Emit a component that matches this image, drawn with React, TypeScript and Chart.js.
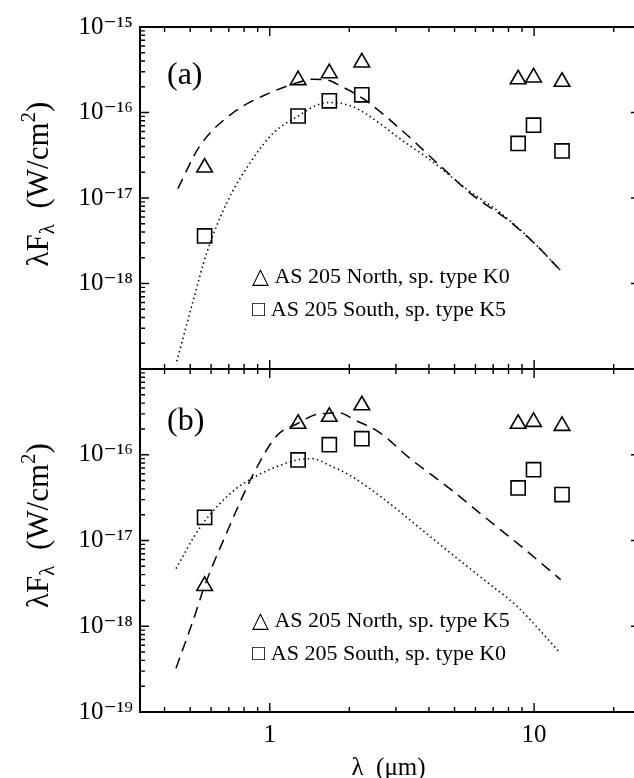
import React, { useEffect, useRef } from 'react';
import { Chart, registerables } from 'chart.js';

Chart.register(...registerables);

const FONT = "'Liberation Serif', 'DejaVu Serif', serif";

// Photometric wavelengths (μm)
const PHOT_WAVE = [0.567, 1.28, 1.68, 2.23, 8.7, 9.95, 12.75];

// Panel (a) photometry (W/cm²)
const A_NORTH = [2.27e-17, 2.39e-16, 2.88e-16, 3.85e-16, 2.45e-16, 2.57e-16, 2.29e-16];
const A_SOUTH = [3.6e-18, 9.1e-17, 1.37e-16, 1.61e-16, 4.34e-17, 7.1e-17, 3.55e-17];

// Panel (a) model curves
const A_DASH_WAVE = [0.449, 0.545, 0.729, 0.976, 1.28, 1.45, 1.65, 1.85, 2.27, 3.12, 4.42, 5.92, 7.92, 9.97, 12.75];
const A_DASH_FLUX = [1.29e-17, 4.1e-17, 1.0e-16, 1.64e-16, 2.25e-16, 2.45e-16, 2.4e-16, 2.05e-16, 1.43e-16, 6.4e-17, 2.37e-17, 1.05e-17, 5.6e-18, 3.0e-18, 1.36e-18];
const A_DOT_WAVE = [0.445, 0.514, 0.578, 0.688, 0.844, 1.034, 1.28, 1.51, 1.69, 2.02, 2.33, 3.12, 4.17, 5.58, 7.45, 9.98, 12.75];
const A_DOT_FLUX = [1.23e-19, 6.4e-19, 2.3e-18, 8.8e-18, 2.6e-17, 5.8e-17, 9.1e-17, 1.22e-16, 1.31e-16, 1.2e-16, 9.5e-17, 4.9e-17, 2.6e-17, 1.26e-17, 6.7e-18, 3.0e-18, 1.36e-18];

// Panel (b) photometry (W/cm²)
const B_NORTH = [2.95e-18, 2.3e-16, 2.77e-16, 3.78e-16, 2.3e-16, 2.42e-16, 2.17e-16];
const B_SOUTH = [1.86e-17, 8.7e-17, 1.31e-16, 1.54e-16, 4.1e-17, 6.7e-17, 3.43e-17];

// Panel (b) model curves
const B_DASH_WAVE = [0.442, 0.514, 0.567, 0.688, 0.868, 1.065, 1.27, 1.47, 1.67, 1.82, 2.11, 2.58, 3.4, 4.81, 6.64, 8.89, 12.6];
const B_DASH_FLUX = [3.24e-19, 1.19e-18, 2.95e-18, 1.24e-17, 6.0e-17, 1.68e-16, 2.3e-16, 2.9e-16, 3.05e-16, 3.1e-16, 2.52e-16, 1.85e-16, 9.0e-17, 4.0e-17, 1.78e-17, 8.65e-18, 3.5e-18];
const B_DOT_WAVE = [0.442, 0.545, 0.729, 0.894, 1.128, 1.27, 1.45, 1.67, 2.02, 2.7, 3.61, 4.81, 6.45, 8.63, 12.4];
const B_DOT_FLUX = [4.7e-18, 1.42e-17, 3.8e-17, 5.7e-17, 7.8e-17, 8.7e-17, 9.0e-17, 7.6e-17, 5.7e-17, 3.05e-17, 1.48e-17, 7.2e-18, 3.5e-18, 1.7e-18, 5.1e-19];

// Axes
const X_MIN = 0.323;
const X_MAX = 24.5;
const X_TICKS = [1, 10];
const X_TICK_LABELS = ['1', '10'];
const Y_MIN = 1e-19;
const Y_MAX = 1e-15;
const Y_TICKS = [1e-19, 1e-18, 1e-17, 1e-16, 1e-15];
const Y_TICK_LABELS = ['10⁻¹⁹', '10⁻¹⁸', '10⁻¹⁷', '10⁻¹⁶', '10⁻¹⁵'];
const X_TITLE = 'λ  (μm)';

const LEGEND_A = ['△ AS 205 North, sp. type K0', '□ AS 205 South, sp. type K5'];
const LEGEND_B = ['△ AS 205 North, sp. type K5', '□ AS 205 South, sp. type K0'];

const pts = (xs: number[], ys: number[]) => xs.map((x, i) => ({ x, y: ys[i] }));

function drawRich(ctx: CanvasRenderingContext2D, segs: { t: string; size: number; dy: number }[]) {
  let total = 0;
  const widths = segs.map((s) => {
    ctx.font = `${s.size}px ${FONT}`;
    const w = ctx.measureText(s.t).width;
    total += w;
    return w;
  });
  let x = -total / 2;
  segs.forEach((s, i) => {
    ctx.font = `${s.size}px ${FONT}`;
    ctx.fillText(s.t, x, s.dy);
    x += widths[i];
  });
}

const decorPlugin = {
  id: 'decor',
  afterDraw(chart: any, _args: any, opts: any) {
    const { ctx, chartArea } = chart;
    const { left, right, top, bottom } = chartArea;
    const xs = chart.scales.x;
    const ys = chart.scales.y;
    ctx.save();
    ctx.strokeStyle = '#000';
    ctx.fillStyle = '#000';
    ctx.lineWidth = 1.4;
    ctx.beginPath();
    const within = (v: number, lo: number, hi: number) => v >= lo * (1 - 1e-9) && v <= hi * (1 + 1e-9);
    for (let e = Math.floor(Math.log10(xs.min)); e <= Math.ceil(Math.log10(xs.max)); e++) {
      for (let m = 1; m <= 9; m++) {
        const v = m * Math.pow(10, e);
        if (!within(v, xs.min, xs.max)) continue;
        const px = xs.getPixelForValue(v);
        const len = m === 1 ? 9 : 5;
        ctx.moveTo(px, top);
        ctx.lineTo(px, top + len);
        ctx.moveTo(px, bottom);
        ctx.lineTo(px, bottom - len);
      }
    }
    for (let e = Math.floor(Math.log10(ys.min)); e <= Math.ceil(Math.log10(ys.max)); e++) {
      for (let m = 1; m <= 9; m++) {
        const v = m * Math.pow(10, e);
        if (!within(v, ys.min, ys.max)) continue;
        const py = ys.getPixelForValue(v);
        const len = m === 1 ? 9 : 5;
        ctx.moveTo(left, py);
        ctx.lineTo(left + len, py);
        if (m === 1) {
          ctx.moveTo(right, py);
          ctx.lineTo(right - 6, py);
        }
      }
    }
    ctx.stroke();
    ctx.lineWidth = 2;
    ctx.strokeRect(left, top, right - left, bottom - top);

    // panel label
    ctx.font = `32px ${FONT}`;
    ctx.textAlign = 'left';
    ctx.textBaseline = 'middle';
    ctx.fillText(opts.label, left + opts.labelDx, top + opts.labelDy);

    // legend
    ctx.font = `22px ${FONT}`;
    ctx.textBaseline = 'alphabetic';
    opts.legend.forEach((t: string, i: number) => {
      ctx.fillText(t, left + opts.legendDx, top + opts.legendDy[i]);
    });

    // y title
    ctx.save();
    ctx.translate(opts.titleX, (top + bottom) / 2 + opts.titleDy);
    ctx.rotate(-Math.PI / 2);
    ctx.textAlign = 'left';
    ctx.textBaseline = 'alphabetic';
    drawRich(ctx, [
      { t: 'λF', size: 31, dy: 0 },
      { t: 'λ', size: 21, dy: 6 },
      { t: '  (W/cm', size: 31, dy: 0 },
      { t: '2', size: 21, dy: -13 },
      { t: ')', size: 31, dy: 0 },
    ]);
    ctx.restore();
    ctx.restore();
  },
};

function makeConfig(p: {
  north: number[]; south: number[];
  dashW: number[]; dashF: number[]; dotW: number[]; dotF: number[];
  showX: boolean; padTop: number; padBottom: number; hideY: number[];
  decor: any;
}) {
  const font = { family: FONT, size: 25 };
  return {
    type: 'line' as const,
    data: {
      datasets: [
        {
          label: 'dashed model',
          data: pts(p.dashW, p.dashF),
          borderColor: '#000',
          borderWidth: 1.5,
          borderDash: [11, 7],
          pointRadius: 0,
          pointHoverRadius: 0,
          cubicInterpolationMode: 'monotone' as const,
          fill: false,
        },
        {
          label: 'dotted model',
          data: pts(p.dotW, p.dotF),
          borderColor: '#000',
          borderWidth: 1.6,
          borderDash: [1.4, 3.2],
          pointRadius: 0,
          pointHoverRadius: 0,
          cubicInterpolationMode: 'monotone' as const,
          fill: false,
        },
        {
          label: 'AS 205 North',
          data: pts(PHOT_WAVE, p.north),
          showLine: false,
          pointStyle: 'triangle',
          pointRadius: 9,
          pointHoverRadius: 9,
          pointBorderWidth: 1.6,
          pointBorderColor: '#000',
          pointBackgroundColor: 'rgba(0,0,0,0)',
        },
        {
          label: 'AS 205 South',
          data: pts(PHOT_WAVE, p.south),
          showLine: false,
          pointStyle: 'rect',
          pointRadius: 10,
          pointHoverRadius: 10,
          pointBorderWidth: 1.6,
          pointBorderColor: '#000',
          pointBackgroundColor: 'rgba(0,0,0,0)',
        },
      ],
    },
    options: {
      responsive: false,
      animation: false as const,
      devicePixelRatio: 1,
      events: [],
      layout: { autoPadding: false, padding: { left: 0, right: 3, top: p.padTop, bottom: p.padBottom } },
      plugins: {
        legend: { display: false },
        tooltip: { enabled: false },
        decor: p.decor,
      },
      scales: {
        x: {
          type: 'logarithmic' as const,
          bounds: 'data' as const,
          min: X_MIN,
          max: X_MAX,
          display: p.showX,
          afterBuildTicks: (s: any) => {
            s.ticks = X_TICKS.map((v) => ({ value: v }));
            s.min = X_MIN;
            s.max = X_MAX;
          },
          afterFit: (s: any) => {
            if (p.showX) s.height = 66;
            s.paddingLeft = 0;
            s.paddingRight = 0;
          },
          grid: { display: false, drawTicks: false },
          border: { display: false },
          ticks: {
            font,
            color: '#000',
            padding: 8,
            maxRotation: 0,
            autoSkip: false,
            callback: (v: any) => {
              const i = X_TICKS.indexOf(Number(v));
              return i >= 0 ? X_TICK_LABELS[i] : null;
            },
          },
          title: {
            display: true,
            text: X_TITLE,
            color: '#000',
            font: { family: FONT, size: 25, lineHeight: 0.76 },
            padding: { top: 0, bottom: 0 },
          },
        },
        y: {
          type: 'logarithmic' as const,
          bounds: 'data' as const,
          min: Y_MIN,
          max: Y_MAX,
          afterBuildTicks: (s: any) => {
            s.ticks = Y_TICKS.map((v) => ({ value: v }));
            s.min = Y_MIN;
            s.max = Y_MAX;
          },
          afterFit: (s: any) => {
            s.width = 140;
            s.paddingTop = 0;
            s.paddingBottom = 0;
          },
          grid: { display: false, drawTicks: false },
          border: { display: false },
          ticks: {
            font,
            color: '#000',
            padding: 7,
            autoSkip: false,
            callback: (v: any) => {
              const n = Number(v);
              const i = Y_TICKS.findIndex((t) => Math.abs(t - n) / t < 1e-6);
              if (i < 0) return null;
              if (p.hideY.some((h) => Math.abs(h - n) / h < 1e-6)) return null;
              return Y_TICK_LABELS[i];
            },
          },
        },
      },
    },
    plugins: [decorPlugin],
  };
}

export default function App() {
  const topRef = useRef<HTMLCanvasElement>(null);
  const botRef = useRef<HTMLCanvasElement>(null);

  useEffect(() => {
    const c1 = new Chart(
      topRef.current as HTMLCanvasElement,
      makeConfig({
        north: A_NORTH, south: A_SOUTH,
        dashW: A_DASH_WAVE, dashF: A_DASH_FLUX, dotW: A_DOT_WAVE, dotF: A_DOT_FLUX,
        showX: false, padTop: 27, padBottom: 2, hideY: [1e-19],
        decor: {
          label: '(a)', labelDx: 27, labelDy: 49,
          legend: LEGEND_A, legendDx: 112, legendDy: [256, 289],
          titleX: 48, titleDy: -14,
        },
      }) as any
    );
    const c2 = new Chart(
      botRef.current as HTMLCanvasElement,
      makeConfig({
        north: B_NORTH, south: B_SOUTH,
        dashW: B_DASH_WAVE, dashF: B_DASH_FLUX, dotW: B_DOT_WAVE, dotF: B_DOT_FLUX,
        showX: true, padTop: 2, padBottom: 0, hideY: [1e-15],
        decor: {
          label: '(b)', labelDx: 27, labelDy: 53,
          legend: LEGEND_B, legendDx: 112, legendDy: [258, 291],
          titleX: 48, titleDy: -15,
        },
      }) as any
    );
    return () => {
      c1.destroy();
      c2.destroy();
    };
  }, []);

  return (
    <div
      style={{
        position: 'fixed',
        left: 0,
        top: 0,
        width: 634,
        height: 778,
        overflow: 'hidden',
        background: '#fff',
      }}
    >
      <canvas ref={topRef} width={640} height={371} style={{ position: 'absolute', left: 0, top: 0 }} />
      <canvas ref={botRef} width={640} height={411} style={{ position: 'absolute', left: 0, top: 367 }} />
    </div>
  );
}
